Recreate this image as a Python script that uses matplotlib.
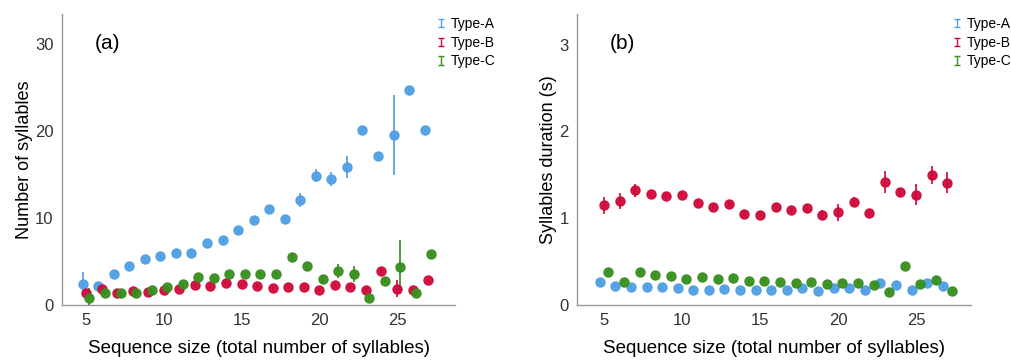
import numpy as np
import matplotlib.pyplot as plt
from matplotlib.container import ErrorbarContainer
from matplotlib.legend_handler import HandlerErrorbar

plt.rcParams['font.family'] = ['Liberation Sans', 'DejaVu Sans']

# sequence size (total number of syllables)
sizes = np.arange(5, 28)
types = ["Type-A", "Type-B", "Type-C"]
colors = ['#4f9fe3', '#cf0a3c', '#388e1f']

# (a) number of syllables of each type
count_a = [2.4, 2.2, 3.6, 4.5, 5.3, 5.6, 6.0, 6.0, 7.1, 7.5, 8.6, 9.8,
           11.0, 9.9, 12.1, 14.9, 14.5, 15.9, 20.1, 17.1, 19.6, 24.7, 20.1]
count_a_err = [1.4, 0.3, 0.2, 0.2, 0.2, 0.2, 0.2, 0.2, 0.2, 0.2, 0.2, 0.2,
               0.3, 0.3, 0.8, 0.8, 0.8, 1.3, 0.2, 0.2, 4.6, 0.4, 0.2]
count_b = [1.35, 1.9, 1.4, 1.6, 1.5, 1.8, 1.9, 2.3, 2.2, 2.5, 2.4, 2.2,
           2.0, 2.1, 2.1, 1.7, 2.3, 2.1, 1.8, 3.9, 1.9, 1.8, 2.9]
count_b_err = [0.5, 0.3, 0.2, 0.2, 0.2, 0.2, 0.2, 0.2, 0.2, 0.2, 0.2, 0.2,
               0.2, 0.2, 0.2, 0.2, 0.2, 0.2, 0.2, 0.2, 1.0, 0.2, 0.2]
count_c = [0.8, 1.35, 1.4, 1.4, 1.8, 2.1, 2.4, 3.2, 3.1, 3.6, 3.6, 3.6,
           3.6, 5.5, 4.5, 3.0, 3.9, 3.6, 0.8, 2.8, 4.4, 1.35, 5.9]
count_c_err = [1.2, 0.2, 0.2, 0.2, 0.2, 0.2, 0.2, 0.2, 0.2, 0.2, 0.2, 0.2,
               0.2, 0.5, 0.5, 0.5, 0.8, 0.9, 0.2, 0.2, 3.1, 0.3, 0.2]

# (b) syllable duration (s) of each type
dur_a = [0.27, 0.22, 0.21, 0.21, 0.21, 0.20, 0.18, 0.18, 0.19, 0.18, 0.18, 0.18,
         0.18, 0.20, 0.16, 0.20, 0.20, 0.17, 0.25, 0.23, 0.17, 0.25, 0.22]
dur_a_err = [0.02] * 23
dur_b = [1.15, 1.20, 1.32, 1.28, 1.26, 1.27, 1.18, 1.13, 1.17, 1.05, 1.04, 1.13,
         1.09, 1.12, 1.04, 1.07, 1.19, 1.06, 1.42, 1.30, 1.27, 1.50, 1.41]
dur_b_err = [0.10, 0.09, 0.07, 0.04, 0.03, 0.03, 0.03, 0.03, 0.03, 0.03, 0.03, 0.05,
             0.03, 0.05, 0.05, 0.10, 0.05, 0.05, 0.13, 0.05, 0.12, 0.10, 0.12]
dur_c = [0.38, 0.27, 0.38, 0.345, 0.33, 0.30, 0.32, 0.30, 0.31, 0.28, 0.28, 0.27,
         0.26, 0.27, 0.24, 0.26, 0.26, 0.23, 0.15, 0.45, 0.24, 0.29, 0.16]
dur_c_err = [0.02] * 21 + [0.05, 0.02]


def panel(ax, series, errs, dodge, ylim, xlim, yticks, ylabel, tag):
    for i, (vals, err) in enumerate(zip(series, errs)):
        ax.errorbar(sizes + (i - 1) * dodge, vals, yerr=err, fmt='o',
                    color=colors[i], ecolor=colors[i], elinewidth=1.3,
                    markersize=6.5, capsize=0, alpha=0.95, zorder=3)
    # legend proxies (error bar symbols)
    handles = []
    for i, name in enumerate(types):
        h = ax.errorbar([np.nan], [np.nan], yerr=[1], fmt='none',
                        ecolor=colors[i], elinewidth=1, capsize=2,
                        label=name)
        handles.append(h)
    ax.legend(handles=handles, loc='upper left', bbox_to_anchor=(0.94, 1.01),
              frameon=False, fontsize=10, handlelength=0.6,
              handletextpad=0.4, labelspacing=0.35, borderaxespad=0,
              handler_map={ErrorbarContainer: HandlerErrorbar(yerr_size=0.3)})

    ax.set_xlim(*xlim)
    ax.set_ylim(*ylim)
    ax.set_xticks([5, 10, 15, 20, 25])
    ax.set_yticks(yticks)
    ax.tick_params(length=0, labelsize=12, labelcolor='#333333', pad=6)
    for s in ['top', 'right']:
        ax.spines[s].set_visible(False)
    for s in ['left', 'bottom']:
        ax.spines[s].set_color('#999999')
        ax.spines[s].set_linewidth(1)
    ax.set_xlabel("Sequence size (total number of syllables)", fontsize=13.5,
                  labelpad=8)
    ax.set_ylabel(ylabel, fontsize=13, labelpad=1.5)
    ax.text(0.115, 0.9, tag, transform=ax.transAxes, fontsize=15,
            ha='center', va='center')


fig = plt.figure(figsize=(10.11, 3.62), dpi=100)
ax1 = fig.add_axes([0.0613, 0.157, 0.389, 0.804])
ax2 = fig.add_axes([0.571, 0.157, 0.389, 0.804])

panel(ax1, [count_a, count_b, count_c], [count_a_err, count_b_err, count_c_err],
      0.22, (0, 33.45), (3.45, 28.75), [0, 10, 20, 30],
      "Number of syllables", "(a)")
panel(ax2, [dur_a, dur_b, dur_c], [dur_a_err, dur_b_err, dur_c_err],
      0.28, (0, 3.35), (3.28, 28.5), [0, 1, 2, 3],
      "Syllables duration (s)", "(b)")

fig.savefig("out.png", dpi=100)
